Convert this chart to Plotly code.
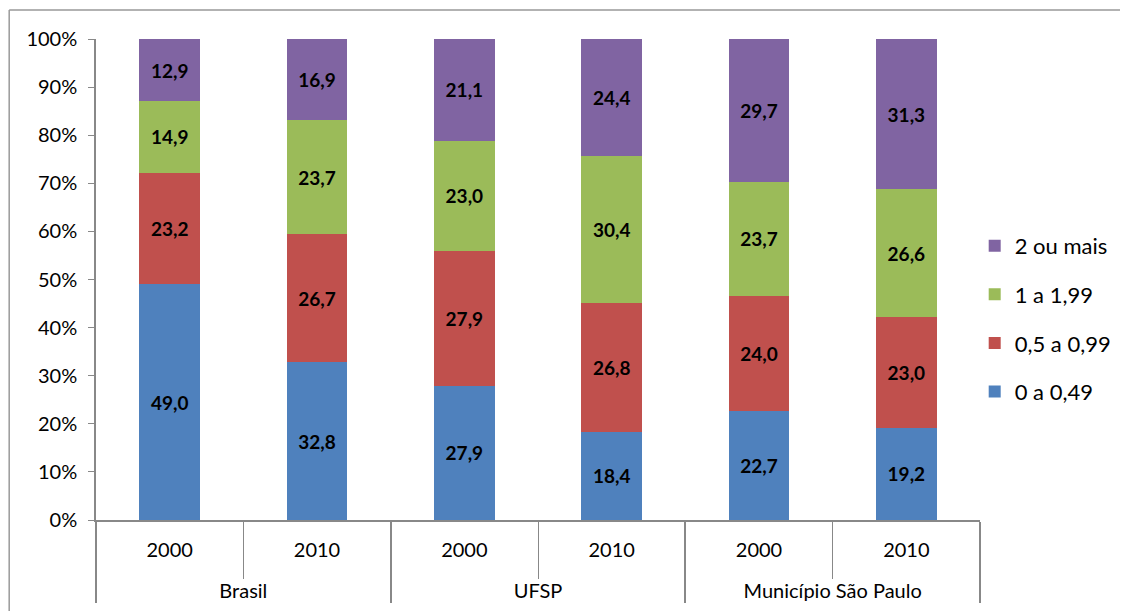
import plotly.graph_objects as go

groups = ["Brasil", "Brasil", "UFSP", "UFSP", "Município São Paulo", "Município São Paulo"]
years = ["2000", "2010", "2000", "2010", "2000", "2010"]

faixa_0 = [49.0, 32.8, 27.9, 18.4, 22.7, 19.2]
faixa_05 = [23.2, 26.7, 27.9, 26.8, 24.0, 23.0]
faixa_1 = [14.9, 23.7, 23.0, 30.4, 23.7, 26.6]
faixa_2 = [12.9, 16.9, 21.1, 24.4, 29.7, 31.3]

series = [
    ("0 a 0,49", faixa_0, "#4F81BD"),
    ("0,5 a 0,99", faixa_05, "#C0504D"),
    ("1 a 1,99", faixa_1, "#9BBB59"),
    ("2 ou mais", faixa_2, "#8064A2"),
]

fnt = "Lato, 'Open Sans', sans-serif"

# segunda linha vazia nos anos para afastar os rótulos dos grupos
year_lbl = [y + "<br> " for y in years]

fig = go.Figure()
for i, (name, vals, col) in enumerate(series):
    fig.add_trace(go.Bar(
        x=[groups, year_lbl], y=vals, name=name, legendgroup=name,
        legendrank=len(series) - i,
        marker=dict(color=col, line=dict(width=0)),
        text=[f"{v:.1f}".replace(".", ",") for v in vals],
        textposition="inside", insidetextanchor="middle", textangle=0,
        textfont=dict(family=fnt, size=19, color="black", weight="bold"),
    ))

fig.update_layout(
    barmode="stack", barnorm="percent", bargap=0.59,
    width=1120, height=603,
    margin=dict(l=88, r=146, t=31, b=91),
    paper_bgcolor="white", plot_bgcolor="white",
    font=dict(family=fnt, size=20, color="black"),
    legend=dict(x=0.994, y=0.418, yanchor="middle", xanchor="left",
                traceorder="grouped", tracegroupgap=17,
                font=dict(size=22), itemwidth=30),
    showlegend=True,
)
fig.update_yaxes(range=[0, 100], dtick=10, ticksuffix="%", showgrid=False,
                 showline=True, linecolor="#888", linewidth=1.5,
                 ticks="outside", ticklen=6, tickcolor="#888",
                 ticklabelstandoff=7, zeroline=False, automargin=False)
fig.update_xaxes(showline=True, linecolor="#888", linewidth=1.5,
                 ticks="outside", ticklen=57, tickcolor="#888",
                 ticklabelstandoff=11, showdividers=True, dividercolor="#888",
                 dividerwidth=1.5, automargin=False)

# moldura do gráfico (só topo e esquerda aparecem no recorte)
borda = dict(color="#999", width=1.5)
fig.add_shape(type="line", xref="paper", yref="paper",
              x0=-0.0982, x1=1.3, y0=1.0603, y1=1.0603, line=borda)
fig.add_shape(type="line", xref="paper", yref="paper",
              x0=-0.0982, x1=-0.0982, y0=-0.3, y1=1.0603, line=borda)

fig.write_html("out.html")
